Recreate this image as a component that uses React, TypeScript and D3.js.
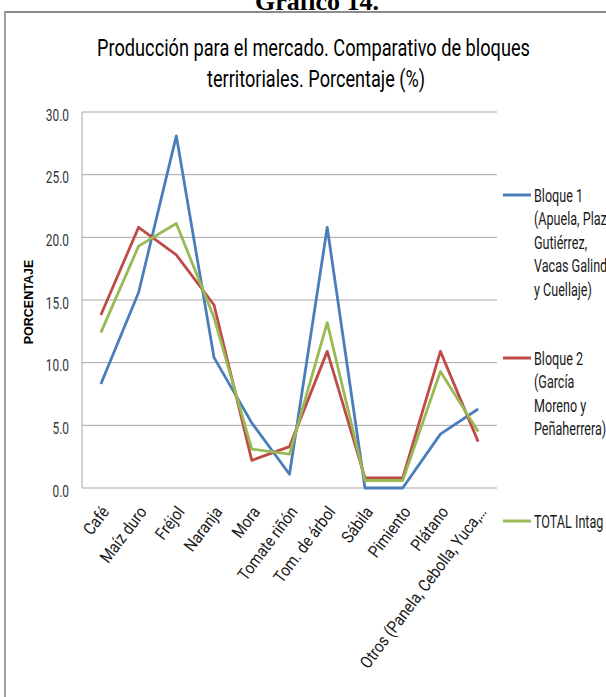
import React from 'react';
import * as d3 from 'd3';

const categories = ['Café', 'Maíz duro', 'Fréjol', 'Naranja', 'Mora', 'Tomate riñón', 'Tom. de árbol', 'Sábila', 'Pimiento', 'Plátano', 'Otros (Panela, Cebolla, Yuca,…'];
const bloque1 = [8.3, 15.6, 28.1, 10.4, 5.2, 1.1, 20.8, 0.0, 0.0, 4.3, 6.3];
const bloque2 = [13.8, 20.8, 18.6, 14.6, 2.2, 3.3, 10.9, 0.8, 0.8, 10.9, 3.7];
const total = [12.4, 19.3, 21.1, 13.6, 3.1, 2.7, 13.2, 0.6, 0.6, 9.3, 4.5];
const yTicks = [0, 5, 10, 15, 20, 25, 30];

const seriesNames = [
  ['Bloque 1', '(Apuela, Plaza', 'Gutiérrez,', 'Vacas Galindo', 'y Cuellaje)'],
  ['Bloque 2', '(García', 'Moreno y', 'Peñaherrera)'],
  ['TOTAL Intag'],
];
const colors = ['#4A7EBB', '#BE4B48', '#98B954'];

const FONT = "Roboto, 'Liberation Sans', sans-serif";

function NT({ x, y, size, sx = 0.7, anchor = 'start', fill = '#1a1a1a', children }: any) {
  return (
    <text transform={`translate(${x},${y}) scale(${sx},1)`} fontSize={size} fontFamily={FONT} textAnchor={anchor} fill={fill}>
      {children}
    </text>
  );
}

export default function App() {
  const W = 606, H = 697;
  const x = d3.scalePoint<string>().domain(categories).range([82, 497]).padding(0.5);
  const y = d3.scaleLinear().domain([0, 30]).range([488, 112]);
  const line = d3.line<number>().x((_, i) => x(categories[i]) as number).y(d => y(d));
  const series = [bloque1, bloque2, total];
  const legendY = [195, 358, 521];

  return (
    <svg width={W} height={H} style={{ position: 'absolute', left: 0, top: 0, background: '#fff' }}>
      <rect x={0} y={0} width={W} height={H} fill="#fff" />
      <text x={317} y={10} textAnchor="middle" fontFamily="'Liberation Serif', 'Times New Roman', serif" fontWeight="bold" fontSize={26} fill="#000">Gráfico 14.</text>
      <line x1={4} x2={606} y1={12} y2={12} stroke="#8c8c8c" strokeWidth={2} />
      <line x1={5} x2={5} y1={11} y2={697} stroke="#a0a0a0" strokeWidth={2} />

      <text x={313.5} y={56} textAnchor="middle" fontFamily={FONT} fontSize={24} fill="#000" textLength={433} lengthAdjust="spacingAndGlyphs">Producción para el mercado. Comparativo de bloques</text>
      <text x={316} y={87} textAnchor="middle" fontFamily={FONT} fontSize={24} fill="#000" textLength={218} lengthAdjust="spacingAndGlyphs">territoriales. Porcentaje (%)</text>

      {yTicks.map(t => (
        <g key={t}>
          <line x1={82} x2={497} y1={y(t)} y2={y(t)} stroke="#a6a6a6" strokeWidth={1} />
          <NT x={69} y={y(t) + 8.5} size={17} anchor="end" fill="#333">{t.toFixed(1)}</NT>
        </g>
      ))}
      <line x1={82} x2={82} y1={112} y2={488} stroke="#a6a6a6" strokeWidth={1} />

      <text transform="translate(33,302) rotate(-90)" textAnchor="middle" fontFamily="'Liberation Sans', Arial, sans-serif" fontWeight="bold" fontSize={12.5} fill="#000">PORCENTAJE</text>

      {categories.map(c => (
        <text key={c} transform={`translate(${(x(c) as number) + 9},512) rotate(-53) scale(0.87,1)`} textAnchor="end" fontFamily={FONT} fontSize={17} fill="#1a1a1a">{c}</text>
      ))}

      {series.map((s, i) => (
        <path key={i} d={line(s) as string} fill="none" stroke={colors[i]} strokeWidth={2.8} strokeLinejoin="round" />
      ))}

      {seriesNames.map((names, i) => (
        <g key={i}>
          <line x1={503} x2={531} y1={legendY[i]} y2={legendY[i]} stroke={colors[i]} strokeWidth={3} />
          {names.map((n, j) => (
            <NT key={j} x={534} y={legendY[i] + 6.5 + j * 23.5} size={18}>{n}</NT>
          ))}
        </g>
      ))}
    </svg>
  );
}
